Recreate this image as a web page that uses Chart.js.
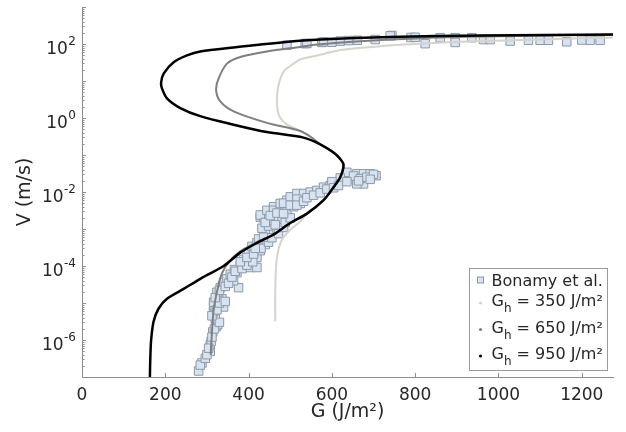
<!DOCTYPE html>
<html>
<head>
<meta charset="utf-8">
<script src="https://cdn.jsdelivr.net/npm/chart.js@4"></script>
<style>
  html, body { margin: 0; padding: 0; background: #fff; }
</style>
</head>
<body>
<canvas id="chart" width="626" height="432"></canvas>
<script>
// axis ticks
const xTicks = [0, 200, 400, 600, 800, 1000, 1200];
const yDecades = [1e-7, 1e-6, 1e-5, 1e-4, 1e-3, 1e-2, 1e-1, 1e0, 1e1, 1e2, 1e3];
const yLabelValues = [1e-6, 1e-4, 1e-2, 1e0, 1e2];
const yLabelExps = ['-6', '-4', '-2', '0', '2'];

// Bonamy et al. (experiment)
const bonamyG = [280, 288, 284, 296, 308, 308, 310, 314, 322, 326, 320, 316, 316, 320, 340, 316, 336, 328, 324, 332,
  376, 338, 340, 348, 364, 356, 372, 380, 366, 404, 420, 392, 388, 400, 420, 400, 412, 428, 408, 420,
  432, 440, 424, 444, 452, 460, 440, 468, 432, 452, 448, 476, 460, 428, 436, 428, 444, 460, 460, 476,
  492, 508, 476, 524, 492, 484, 500, 516, 532, 516, 548, 564, 580, 596, 612, 628, 644, 660, 676, 692,
  676, 660, 636, 706, 652, 620, 600,
  300, 304, 312, 318, 330, 312, 324, 330, 344, 320, 330, 344, 352, 360, 368, 384, 396, 410, 380, 396,
  412, 430, 416, 448, 436, 456, 472, 484, 464, 440, 488, 500, 452, 468, 484, 500, 516, 532, 540, 556,
  572, 588, 604, 616, 636, 668, 684, 700, 664, 692,
  492, 536, 576, 620, 661, 704, 744, 824, 860, 896, 896, 936, 964, 1028, 1072, 1100, 1164, 1220, 1244,
  580, 740, 540, 790, 600, 800, 980, 1120, 1200, 640];
const bonamyV = [1.45e-7, 2.4e-7, 2.1e-7, 3.2e-7, 4.9e-7, 7.4e-7, 9.1e-7, 1.66e-6, 2.3e-6, 2.6e-6, 3.8e-6, 5.8e-6, 8.5e-6, 7.8e-6, 7.8e-6, 1.05e-5, 1.3e-5, 1.6e-5, 1.95e-5, 2.6e-5,
  2.6e-5, 3.0e-5, 3.6e-5, 4.5e-5, 4.0e-5, 6.0e-5, 6.6e-5, 1.0e-4, 8.0e-5, 9.1e-5, 9.1e-5, 1.2e-4, 1.5e-4, 1.9e-4, 1.7e-4, 2.3e-4, 2.8e-4, 2.6e-4, 3.4e-4, 4.2e-4,
  4.7e-4, 3.8e-4, 5.4e-4, 6.3e-4, 7.1e-4, 8.5e-4, 8.0e-4, 1.05e-3, 1.05e-3, 1.45e-3, 1.2e-3, 1.8e-3, 1.7e-3, 2.1e-3, 2.0e-3, 2.4e-3, 3.2e-3, 4.0e-3, 3.2e-3, 3.2e-3,
  3.2e-3, 4.0e-3, 4.9e-3, 4.9e-3, 6.0e-3, 5.0e-3, 7.4e-3, 9.1e-3, 9.1e-3, 6.4e-3, 1.0e-2, 1.1e-2, 1.35e-2, 1.5e-2, 1.66e-2, 2.0e-2, 2.3e-2, 3.1e-2, 3.1e-2, 3.1e-2,
  1.66e-2, 1.66e-2, 3.4e-2, 2.75e-2, 2.7e-2, 2.4e-2, 1.9e-2,
  4.0e-7, 6.0e-7, 1.2e-6, 2.0e-6, 3.0e-6, 4.5e-6, 6.5e-6, 1.0e-5, 1.1e-5, 1.4e-5, 2.2e-5, 2.8e-5, 3.4e-5, 5.0e-5, 7.2e-5, 8.5e-5, 1.05e-4, 1.3e-4, 1.3e-4, 1.7e-4,
  2.1e-4, 3.0e-4, 3.0e-4, 4.4e-4, 6.0e-4, 5.8e-4, 7.5e-4, 1.1e-3, 1.3e-3, 1.5e-3, 1.5e-3, 2.0e-3, 2.3e-3, 2.7e-3, 2.6e-3, 4.4e-3, 4.4e-3, 5.6e-3, 7.0e-3, 8.2e-3,
  9.5e-3, 1.2e-2, 1.3e-2, 1.5e-2, 1.9e-2, 2.3e-2, 2.5e-2, 3.0e-2, 2.0e-2, 2.2e-2,
  93, 102, 110, 120, 126, 132, 170, 102, 148, 148, 110, 148, 132, 120, 126, 126, 115, 126, 126,
  115, 166, 104, 150, 112, 152, 132, 126, 128, 124];

// model, Gh = 350 J/m2
const g350G = [464, 464, 466, 470, 480, 500, 524, 540, 580, 604, 620, 628, 620, 604, 572, 540, 516, 492, 476, 470,
  468, 472, 484, 508, 524, 572, 604, 636, 764, 924, 1036, 1276];
const g350V = [3.2e-6, 2.0e-5, 1e-4, 2.3e-4, 5.1e-4, 9.5e-4, 1.6e-3, 2.6e-3, 6.0e-3, 1.35e-2, 2.5e-2, 5.4e-2, 7.8e-2, 0.117, 0.195, 0.355, 0.5, 0.66, 1.0, 1.58,
  3.1, 7.8, 17.8, 29.5, 38, 51, 63, 72, 95, 117, 126, 151];

// model, Gh = 650 J/m2
const g650G = [309, 312, 316, 324, 336, 352, 380, 420, 460, 500, 540, 580, 604, 620, 628, 620, 604, 572, 548, 524,
  444, 364, 332, 322, 328, 348, 380, 444, 524, 572, 740, 924, 1276];
const g650V = [4.0e-7, 1.6e-6, 6.3e-6, 2.0e-5, 6.3e-5, 1.26e-4, 2.5e-4, 4.4e-4, 7.1e-4, 1.45e-3, 2.6e-3, 6.0e-3, 1.35e-2, 2.5e-2, 5.4e-2, 7.8e-2, 0.117, 0.195, 0.316, 0.447,
  0.74, 1.51, 2.8, 5.75, 11.7, 29.5, 44.7, 63, 83, 98, 132, 158, 178];

// model, Gh = 950 J/m2
const g950G = [163, 164, 166, 172, 184, 204, 244, 284, 340, 380, 420, 460, 500, 540, 580, 604, 620, 628, 620, 604,
  572, 532, 444, 364, 284, 236, 204, 192, 190, 196, 220, 252, 284, 364, 484, 572, 740, 956, 1276];
const g950V = [1e-7, 3.2e-7, 1e-6, 3.2e-6, 7.1e-6, 1.3e-5, 2.4e-5, 4.5e-5, 1e-4, 2.3e-4, 4.2e-4, 7.1e-4, 1.45e-3, 2.6e-3, 6.0e-3, 1.35e-2, 2.5e-2, 5.4e-2, 7.8e-2, 0.117,
  0.195, 0.295, 0.417, 0.66, 1.12, 1.86, 3.4, 6.3, 9.1, 15.8, 32, 49, 63, 81, 112, 132, 155, 170, 182];

function toPoints(gs, vs) {
    return gs.map((g, i) => ({ x: g, y: vs[i] }));
}

const FONT = "'DejaVu Sans', sans-serif";
const TEXT = '#262626';
const AXIS = '#8c8c8c';

// ticks inside the axes, y labels with exponent, boxed legend
const axisDecor = {
    id: 'axisDecor',
    afterDraw(chart) {
        const ctx = chart.ctx;
        const xs = chart.scales.x;
        const ys = chart.scales.y;
        const area = chart.chartArea;
        ctx.save();
        ctx.strokeStyle = AXIS;
        ctx.lineWidth = 1;
        ctx.beginPath();
        xTicks.forEach(v => {
            const px = Math.round(xs.getPixelForValue(v)) + 0.5;
            ctx.moveTo(px, area.bottom);
            ctx.lineTo(px, area.bottom - 4);
        });
        yDecades.forEach((d, i) => {
            const py = Math.round(ys.getPixelForValue(d)) + 0.5;
            ctx.moveTo(area.left, py);
            ctx.lineTo(area.left + 4, py);
            if (i < yDecades.length - 1) {
                for (let m = 2; m < 10; m++) {
                    const pm = Math.round(ys.getPixelForValue(d * m)) + 0.5;
                    ctx.moveTo(area.left, pm);
                    ctx.lineTo(area.left + 2.5, pm);
                }
            }
        });
        ctx.stroke();

        // y tick labels 10^n
        ctx.fillStyle = TEXT;
        ctx.textBaseline = 'alphabetic';
        ctx.textAlign = 'right';
        const rightEdge = area.left - 6;
        yLabelValues.forEach((v, i) => {
            const py = ys.getPixelForValue(v);
            ctx.font = '12px ' + FONT;
            const ew = ctx.measureText(yLabelExps[i]).width;
            ctx.fillText(yLabelExps[i], rightEdge, py + 0.5);
            ctx.font = '17px ' + FONT;
            ctx.fillText('10', rightEdge - ew - 0.5, py + 10);
        });

        // legend
        const right = area.right - 5.5;
        const bottom = area.bottom - 6.5;
        const left = right - 138;
        const top = bottom - 102;
        ctx.fillStyle = '#fff';
        ctx.fillRect(left, top, right - left, bottom - top);
        ctx.strokeStyle = '#9a9a9a';
        ctx.strokeRect(left, top, right - left, bottom - top);

        const mx = left + 11;
        const tx = left + 22;
        const rows = [11.5, 31.5, 58, 84.5];
        ctx.textAlign = 'left';
        chart.data.datasets.forEach((ds, i) => {
            const cy = top + rows[i];
            if (i === 0) {
                ctx.fillStyle = ds.backgroundColor;
                ctx.strokeStyle = ds.borderColor;
                ctx.fillRect(mx - 3, cy - 3, 6, 6);
                ctx.strokeRect(mx - 3, cy - 3, 6, 6);
                ctx.fillStyle = TEXT;
                ctx.font = '16px ' + FONT;
                ctx.fillText(ds.label, tx, cy + 6);
            } else {
                ctx.fillStyle = ds.borderColor;
                ctx.beginPath();
                ctx.arc(mx, cy + 3, 1.6, 0, Math.PI * 2);
                ctx.fill();
                ctx.fillStyle = TEXT;
                ctx.font = '16px ' + FONT;
                ctx.fillText('G', tx, cy + 6);
                const gw = ctx.measureText('G').width;
                ctx.font = '12px ' + FONT;
                ctx.fillText('h', tx + gw, cy + 12);
                const hw = ctx.measureText('h').width;
                ctx.font = '16px ' + FONT;
                ctx.fillText(ds.label.replace('Gh', ''), tx + gw + hw, cy + 6);
            }
        });
        ctx.restore();
    }
};

const ctx = document.getElementById('chart').getContext('2d');
new Chart(ctx, {
    type: 'scatter',
    data: {
        datasets: [{
            label: 'Bonamy et al.',
            data: toPoints(bonamyG, bonamyV),
            pointStyle: 'rect',
            pointRadius: 6,
            backgroundColor: '#d7e3f1',
            borderColor: '#8e99a7',
            borderWidth: 1,
            showLine: false,
            order: 4
        }, {
            label: 'Gh = 350 J/m²',
            data: toPoints(g350G, g350V),
            showLine: true,
            borderColor: '#d6d3cb',
            borderWidth: 2,
            pointRadius: 0,
            tension: 0.3,
            order: 3
        }, {
            label: 'Gh = 650 J/m²',
            data: toPoints(g650G, g650V),
            showLine: true,
            borderColor: '#7f7f7f',
            borderWidth: 2,
            pointRadius: 0,
            tension: 0.3,
            order: 2
        }, {
            label: 'Gh = 950 J/m²',
            data: toPoints(g950G, g950V),
            showLine: true,
            borderColor: '#000000',
            borderWidth: 2.5,
            pointRadius: 0,
            tension: 0.3,
            order: 1
        }]
    },
    options: {
        responsive: false,
        animation: false,
        layout: { padding: { left: 0, right: 13, top: 5, bottom: 0 } },
        plugins: {
            legend: { display: false },
            tooltip: { enabled: false }
        },
        scales: {
            x: {
                type: 'linear',
                min: 0,
                max: 1275,
                afterBuildTicks: scale => { scale.ticks = xTicks.map(v => ({ value: v })); },
                afterFit: scale => { scale.height = 55; },
                grid: { display: true, drawOnChartArea: false, drawTicks: false },
                border: { display: true, color: AXIS, width: 1 },
                ticks: {
                    color: TEXT,
                    font: { family: FONT, size: 17 },
                    padding: 8,
                    maxRotation: 0,
                    callback: v => String(v)
                },
                title: {
                    display: true,
                    text: 'G (J/m²)',
                    color: TEXT,
                    font: { family: FONT, size: 19 },
                    padding: { top: 4, bottom: 9 }
                }
            },
            y: {
                type: 'logarithmic',
                min: 1e-7,
                max: 1e3,
                afterBuildTicks: scale => { scale.ticks = yDecades.map(v => ({ value: v })); },
                afterFit: scale => { scale.width = 82; },
                grid: { display: true, drawOnChartArea: false, drawTicks: false },
                border: { display: true, color: AXIS, width: 1 },
                ticks: { display: false },
                title: {
                    display: true,
                    text: 'V (m/s)',
                    color: TEXT,
                    font: { family: FONT, size: 19 },
                    padding: { top: 14, bottom: 4 }
                }
            }
        }
    },
    plugins: [axisDecor]
});
</script>
</body>
</html>
